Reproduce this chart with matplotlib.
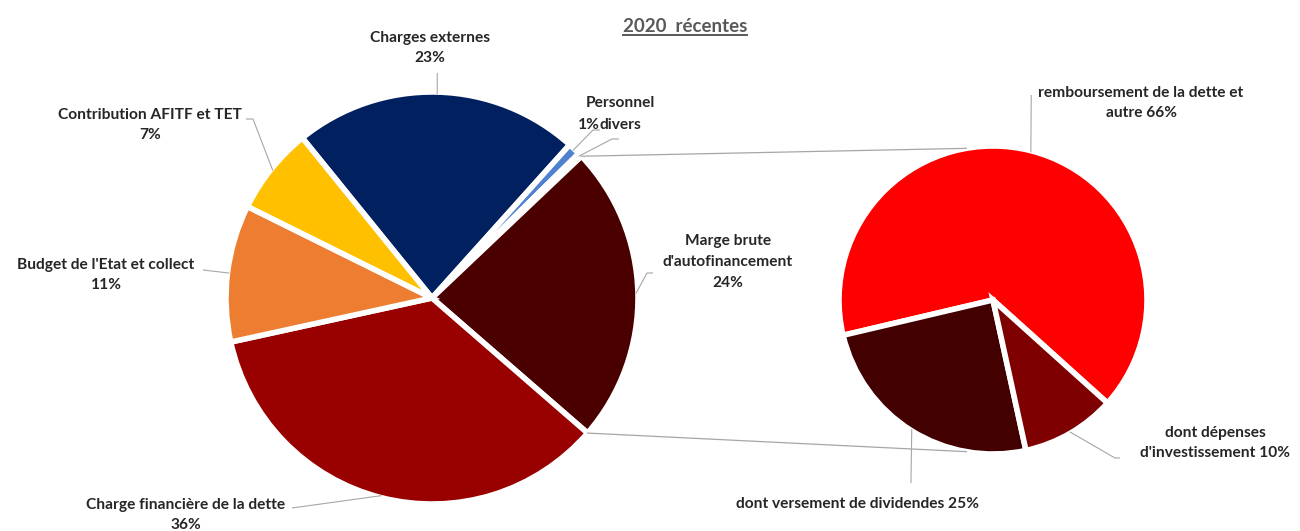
import numpy as np
import matplotlib
matplotlib.use("Agg")
import matplotlib.pyplot as plt

plt.rcParams["font.family"] = ["Lato", "DejaVu Sans"]

# main breakdown (clockwise from the top-left)
labels_main = ["Charges externes", "Personnel", "divers", "Marge brute d'autofinancement",
               "Charge financière de la dette", "Budget de l'Etat et collect",
               "Contribution AFITF et TET"]
values_main = [23, 1, 0.3, 24, 36, 11, 7]
colors_main = ["#002060", "#4F81D0", "#FFFFFF", "#4B0000", "#990000", "#ED7D31", "#FFC000"]

# detail of the self-financing margin
labels_detail = ["remboursement de la dette et autre", "dont versement de dividendes",
                 "dont dépenses d'investissement"]
values_detail = [66, 25, 10]
colors_detail = ["#FF0000", "#420000", "#7F0000"]

W, H = 1300, 531
TEXT = "#262626"
LEAD = "#A6A6A6"
FS = 11.2


def img(x, y):
    # pixel coordinates measured from the top-left corner
    return x, H - y


fig = plt.figure(figsize=(13, 5.31), dpi=100)
ax = fig.add_axes([0, 0, 1, 1])

c_main, r_main = img(432, 298), 206
c_det, r_det = img(993, 300), 154

wedges_main, _ = ax.pie(values_main, colors=colors_main, startangle=129,
                        counterclock=False, center=c_main, radius=r_main,
                        wedgeprops=dict(edgecolor="white", linewidth=4))
wedges_det, _ = ax.pie(values_detail, colors=colors_detail, startangle=-42,
                       counterclock=True, center=c_det, radius=r_det,
                       wedgeprops=dict(edgecolor="white", linewidth=4))

ax.set_xlim(0, W)
ax.set_ylim(0, H)
ax.set_aspect("equal")
ax.axis("off")


def point_on(wedge, angle, frac=1.0):
    cx, cy = wedge.center
    a = np.deg2rad(angle)
    return cx + wedge.r * frac * np.cos(a), cy + wedge.r * frac * np.sin(a)


def mid(wedge):
    return (wedge.theta1 + wedge.theta2) / 2


def leader(wedge, *pts):
    ax_, ay_ = point_on(wedge, mid(wedge), 0.99)
    xs = [ax_] + [img(*p)[0] for p in pts]
    ys = [ay_] + [img(*p)[1] for p in pts]
    ax.plot(xs, ys, color=LEAD, lw=0.8, solid_capstyle="butt")


def label(x, y, s, **kw):
    kw.setdefault("ha", "center")
    ax.text(*img(x, y), s, va="center", fontsize=FS, fontweight="bold",
            color=TEXT, linespacing=1.6, **kw)


def pct(v):
    return f"{v:g}%"


# links between the margin slice and the detail pie
marge = wedges_main[3]
top_src = point_on(marge, marge.theta2)
bot_src = point_on(marge, marge.theta1)
top_dst = point_on(wedges_det[0], 100)
bot_dst = point_on(wedges_det[1], 260)
ax.plot([top_src[0], top_dst[0]], [top_src[1], top_dst[1]], color=LEAD, lw=0.9)
ax.plot([bot_src[0], bot_dst[0]], [bot_src[1], bot_dst[1]], color=LEAD, lw=0.9)

# leader lines
w = wedges_main
leader(w[0], (point_on(w[0], mid(w[0]))[0], 73))
leader(w[1], (593, 130), (600, 130))
leader(w[2], (612, 139), (619, 139))
leader(w[3], (647, 273), (653, 273))
leader(w[4], (292, 508))
leader(w[5], (203, 270))
leader(w[6], (253, 119), (246, 119))
d = wedges_det
leader(d[0], (point_on(d[0], mid(d[0]))[0], 95))
leader(d[1], (point_on(d[1], mid(d[1]))[0], 483))
leader(d[2], (1115, 458), (1120, 458))

# data labels
label(430, 48, f"Charges externes\n{pct(values_main[0])}")
label(620, 103, "Personnel")
label(589, 125, pct(values_main[1]))
label(600, 125, "divers", ha="left")
label(728, 262, f"Marge brute\nd'autofinancement\n{pct(values_main[3])}")
label(186, 515, f"Charge financière de la dette\n{pct(values_main[4])}")
label(106, 275, f"Budget de l'Etat et collect\n{pct(values_main[5])}")
label(150, 125, f"Contribution AFITF et TET\n{pct(values_main[6])}")
label(1141, 103, f"remboursement de la dette et\nautre {pct(values_detail[0])}")
label(858, 504, f"dont versement de dividendes {pct(values_detail[1])}")
label(1215, 443, f"dont dépenses\nd'investissement {pct(values_detail[2])}")

# underlined title
title = ax.text(*img(685, 27), "2020  récentes", ha="center", va="center",
                fontsize=13.5, fontweight="bold", color="#595959")
fig.canvas.draw()
bb = title.get_window_extent().transformed(ax.transData.inverted())
ax.plot([bb.x0, bb.x1], [bb.y0 + 1, bb.y0 + 1], color="#595959", lw=1.4)

fig.savefig("out.png", dpi=100, facecolor="white")
